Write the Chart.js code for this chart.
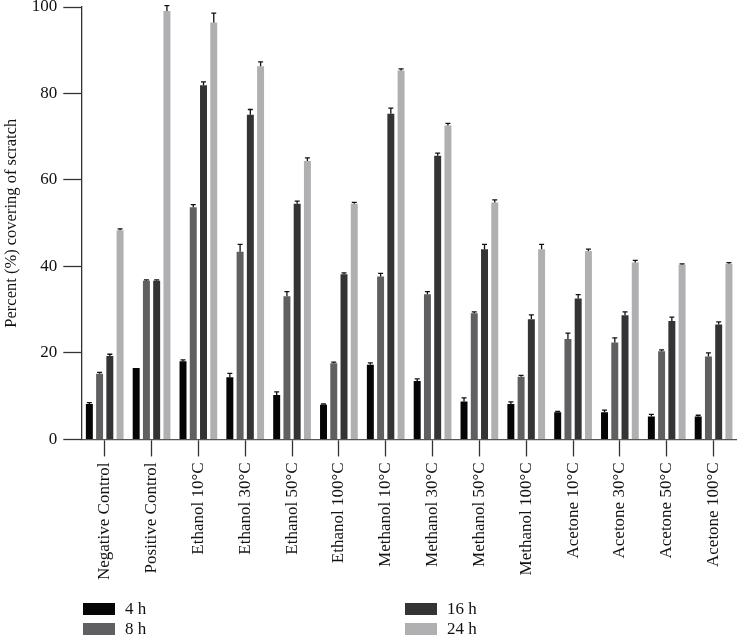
<!DOCTYPE html>
<html>
<head>
<meta charset="utf-8">
<script src="https://cdn.jsdelivr.net/npm/chart.js@4.4.0/dist/chart.umd.min.js"></script>
<style>
  body{margin:0;background:#fff;}
  #wrap{position:relative;width:740px;height:636px;}
  #legend{position:absolute;left:0;top:0;width:740px;height:636px;pointer-events:none;font-family:"Liberation Serif","DejaVu Serif",serif;font-size:17px;color:#111;}
  .item{position:absolute;display:flex;align-items:center;height:13px;}
  .box{width:32px;height:12px;margin-right:10px;}
</style>
</head>
<body>
<div id="wrap">
  <canvas id="myChart" width="740" height="636"></canvas>
  <div id="legend"></div>
</div>
<script>
const labels=['Negative Control','Positive Control','Ethanol 10°C','Ethanol 30°C','Ethanol 50°C','Ethanol 100°C',
  'Methanol 10°C','Methanol 30°C','Methanol 50°C','Methanol 100°C','Acetone 10°C','Acetone 30°C','Acetone 50°C','Acetone 100°C'];
const seriesNames=['4 h','8 h','16 h','24 h'];
const h4=[8.2,16.5,18.1,14.4,10.3,8.0,17.3,13.5,8.8,8.2,6.3,6.3,5.3,5.3];
const h8=[15.2,36.7,53.7,43.4,33.1,17.6,37.7,33.6,29.2,14.5,23.2,22.4,20.4,19.2];
const h16=[19.3,36.7,81.9,75.1,54.5,38.2,75.3,65.6,44.0,27.8,32.6,28.7,27.4,26.6];
const h24=[48.4,99.1,96.4,86.3,64.4,54.5,85.3,72.6,54.8,44.0,43.6,40.9,40.4,40.6];
const err4=[0.3,0,0.3,0.9,0.7,0.2,0.4,0.5,0.8,0.5,0.2,0.5,0.5,0.3];
const err8=[0.3,0.2,0.6,1.7,1.1,0.3,0.7,0.6,0.3,0.3,1.4,1.1,0.3,0.8];
const err16=[0.4,0.2,0.8,1.2,0.6,0.3,1.3,0.6,1.1,1.0,0.9,0.8,0.9,0.6];
const err24=[0.3,1.2,2.2,1.0,0.7,0.3,0.4,0.5,0.6,1.1,0.4,0.5,0.2,0.3];
const colors=['#050505','#606063','#343434','#b0b0b3'];

const serif='"Liberation Serif","DejaVu Serif",serif';

const errorBars={
  id:'errorBars',
  afterDatasetsDraw(chart){
    const ctx=chart.ctx, y=chart.scales.y;
    ctx.save();
    ctx.strokeStyle='#111';
    ctx.lineWidth=1.3;
    chart.data.datasets.forEach((ds,i)=>{
      const meta=chart.getDatasetMeta(i);
      meta.data.forEach((bar,j)=>{
        const e=ds.errors[j];
        if(!e) return;
        const top=y.getPixelForValue(ds.data[j]+e);
        ctx.beginPath();
        ctx.moveTo(bar.x,bar.y);
        ctx.lineTo(bar.x,top);
        ctx.moveTo(bar.x-2.5,top);
        ctx.lineTo(bar.x+2.5,top);
        ctx.stroke();
      });
    });
    ctx.restore();
  }
};

const renderChart=()=>{
  var ctx=document.getElementById('myChart').getContext('2d');
  var myChart=new Chart(ctx,{
    type:'bar',
    data:{
      labels:labels,
      datasets:[
        {label:seriesNames[0],data:h4,errors:err4,backgroundColor:colors[0]},
        {label:seriesNames[1],data:h8,errors:err8,backgroundColor:colors[1]},
        {label:seriesNames[2],data:h16,errors:err16,backgroundColor:colors[2]},
        {label:seriesNames[3],data:h24,errors:err24,backgroundColor:colors[3]}
      ]
    },
    options:{
      responsive:false,
      animation:false,
      categoryPercentage:0.875,
      barPercentage:0.68,
      layout:{padding:{left:2,right:1,top:7,bottom:50}},
      plugins:{legend:{display:false},tooltip:{enabled:false}},
      scales:{
        x:{
          grid:{offset:false,drawOnChartArea:false,tickLength:17,color:'#333',tickWidth:1.3},
          border:{color:'#555',width:1.3},
          ticks:{minRotation:90,maxRotation:90,padding:6,color:'#111',font:{family:serif,size:17}}
        },
        y:{
          min:0,max:100,
          afterFit:(s)=>{s.paddingTop=0;},
          grid:{drawOnChartArea:false,tickLength:18,color:'#333',tickWidth:1.3},
          border:{color:'#333',width:1.3},
          ticks:{stepSize:20,padding:6,color:'#111',font:{family:serif,size:17}},
          title:{display:true,text:'Percent (%) covering of scratch',color:'#111',padding:{top:0,bottom:4},font:{family:serif,size:16.5}}
        }
      }
    },
    plugins:[errorBars]
  });
  // legend in two columns, like the original figure
  const pos=[[83,602],[83,622],[405,602],[405,622]];
  const leg=document.getElementById('legend');
  myChart.data.datasets.forEach((ds,i)=>{
    const d=document.createElement('div');
    d.className='item';
    d.style.left=pos[i][0]+'px';
    d.style.top=pos[i][1]+'px';
    d.innerHTML='<span class="box" style="background:'+ds.backgroundColor+'"></span><span>'+ds.label+'</span>';
    leg.appendChild(d);
  });
};
renderChart();
</script>
</body>
</html>
